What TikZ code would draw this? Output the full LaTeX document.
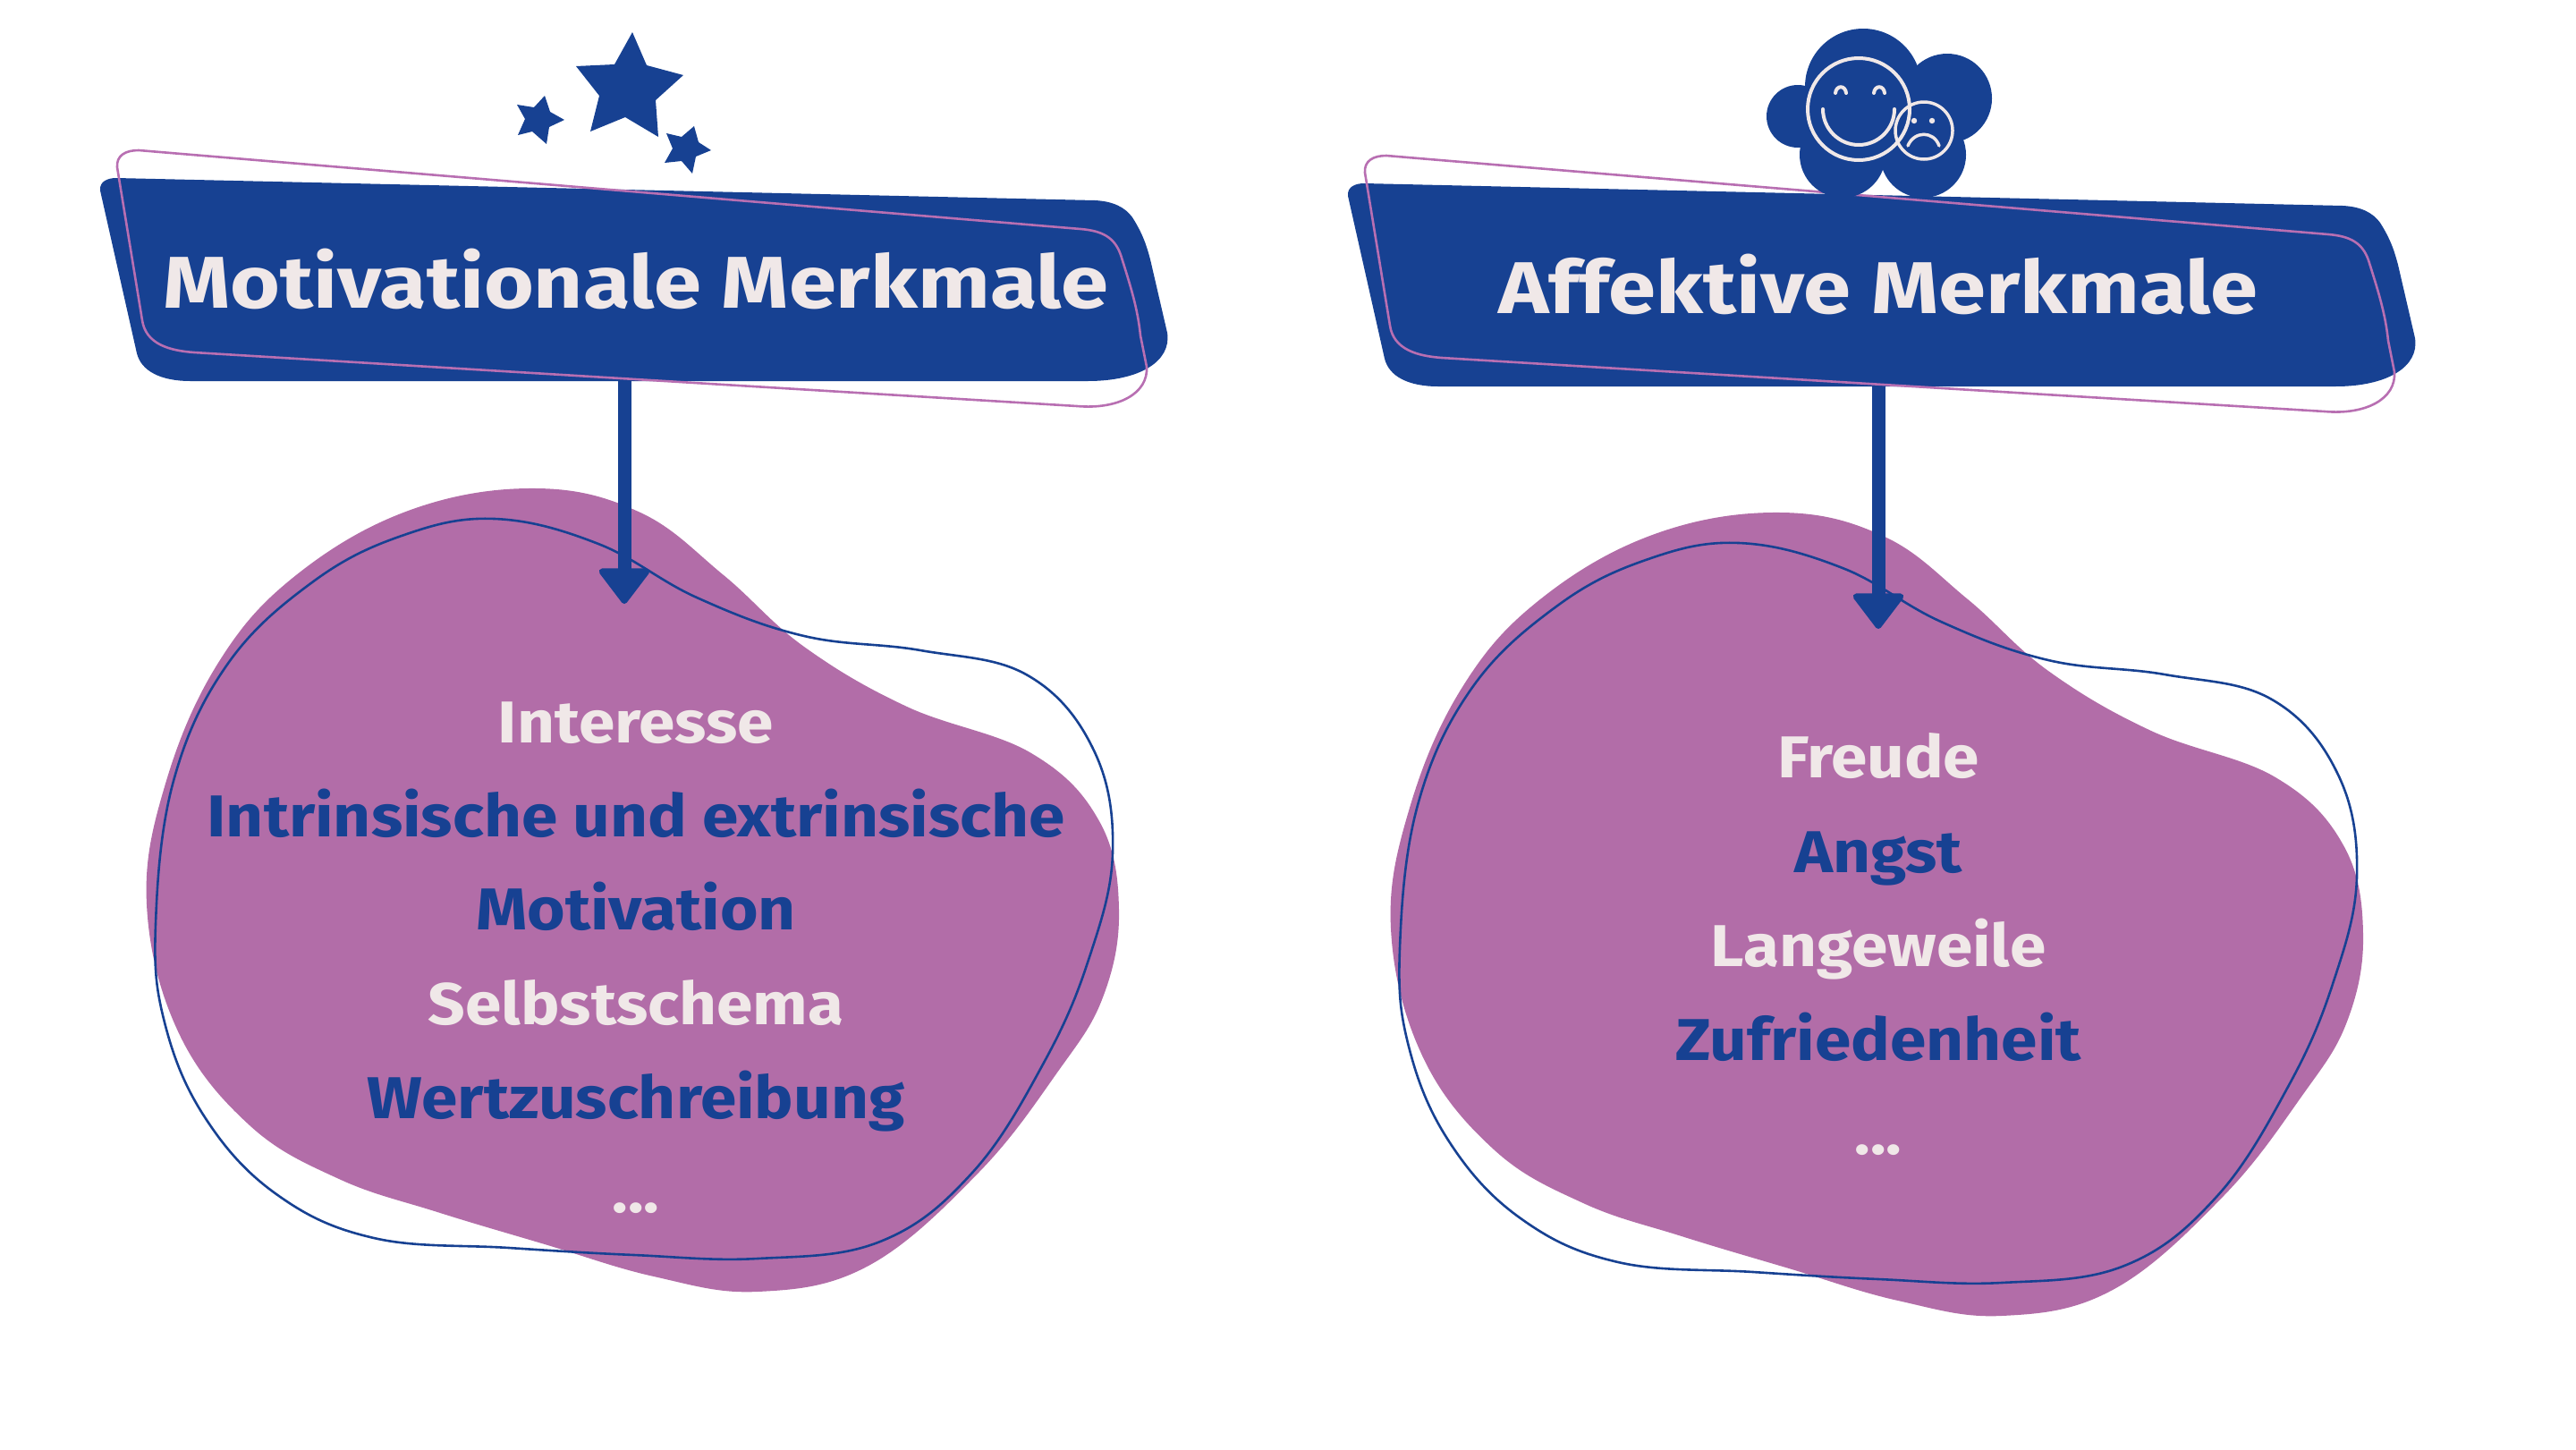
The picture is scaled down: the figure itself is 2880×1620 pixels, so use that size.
\documentclass[tikz,border=0pt]{standalone}
\usepackage{fontspec}
\usetikzlibrary{arrows.meta}
\setmainfont{Fira Sans}
\newfontfamily\titlefont[FakeStretch=1.167]{Fira Sans}
\newfontfamily\itemfont[FakeStretch=1.105]{Fira Sans}
\definecolor{navy}{HTML}{174192}
\definecolor{plum}{HTML}{B26DA8}
\definecolor{rim}{HTML}{B86FB2}
\definecolor{paper}{HTML}{F0E8E8}
\tikzset{
  bannerfill/.style={fill=navy,draw=none},
  bannerrim/.style={draw=rim,line width=2.6pt},
  blobfill/.style={fill=plum,draw=none},
  blobrim/.style={draw=navy,line width=2.6pt},
  linkarrow/.style={draw=navy,line width=15pt,-{Triangle[length=42pt,width=62pt,line width=7pt,round]}},
  titletext/.style={anchor=base,inner sep=0pt,text=paper,font=\titlefont\fontsize{82}{90}\selectfont\bfseries},
  lighttext/.style={anchor=base,inner sep=0pt,text=paper,font=\itemfont\fontsize{66}{72}\selectfont\bfseries},
  darktext/.style={anchor=base,inner sep=0pt,text=navy,font=\itemfont\fontsize{66}{72}\selectfont\bfseries},
  iconfill/.style={fill=navy,draw=none},
  faceline/.style={draw=paper,line width=4pt,line cap=round},
}
\newcommand{\bannerpath}{(112,213) .. controls (111,203) and (120,199) .. (130,199) -- (1224,224) .. controls (1245,225) and (1258,232) .. (1266,243) .. controls (1278,262) and (1282,275) .. (1286,290) -- (1305,372) .. controls (1310,404) and (1274,426) .. (1216,426) -- (213,426) .. controls (180,426) and (158,415) .. (153,395) -- cycle}
\newcommand{\rimpath}{(131,187) .. controls (130,174) and (140,168) .. (155,168) -- (1208,256) .. controls (1232,258) and (1246,265) .. (1253,285) .. controls (1264,320) and (1272,345) .. (1275,375) -- (1282,410) .. controls (1284,440) and (1250,458) .. (1204,454) -- (217,394) .. controls (190,392) and (163,385) .. (159,358) -- cycle}
\newcommand{\blobpath}{plot[smooth cycle,tension=0.65] coordinates {(1991,573) (2107,600) (2200,670) (2290,750) (2405,817) (2544,869) (2620,945) (2642,1044) (2624,1142) (2573,1226) (2485,1338) (2362,1442) (2238,1471) (2122,1454) (2000,1418) (1880,1382) (1770,1345) (1670,1285) (1590,1180) (1555,1038) (1576,903) (1635,768) (1722,670) (1850,597)}}
\newcommand{\blobrimpath}{plot[smooth cycle,tension=0.65] coordinates {(1944,607) (2060,635) (2170,695) (2290,738) (2420,754) (2540,782) (2614,866) (2635,980) (2608,1100) (2558,1215) (2478,1338) (2375,1415) (2238,1434) (2100,1430) (1960,1422) (1809,1411) (1700,1362) (1620,1276) (1575,1170) (1565,1060) (1585,900) (1645,770) (1740,678) (1840,626)}}
\begin{document}
\begin{tikzpicture}[x=1pt,y=-1pt]
\useasboundingbox (0,0) rectangle (2880,1620);
% left group
\begin{scope}[shift={(-1391,-27)}]
  \path[blobfill] \blobpath;
\end{scope}
\path[bannerfill] \bannerpath;
\path[bannerrim] \rimpath;
\begin{scope}[shift={(-1391,-27)}]
  \path[blobrim] \blobrimpath;
\end{scope}
\coordinate (lstart) at (698,426);
\coordinate (ltip) at (698,675);
\draw[linkarrow] (lstart) -- (ltip);
\path[iconfill] (707,36) -- (723,73) -- (764,84) -- (733,112) -- (736,153) -- (699,131) -- (660,147) -- (670,107) -- (644,74) -- (687,72) -- cycle;
\path[iconfill] (609,107) -- (615,125) -- (631,134) -- (614,142) -- (611,161) -- (595,147) -- (579,151) -- (587,133) -- (578,117) -- (597,120) -- cycle;
\path[iconfill] (776,141) -- (781,159) -- (795,168) -- (778,175) -- (774,194) -- (762,180) -- (743,182) -- (752,166) -- (745,149) -- (762,153) -- cycle;
\node[titletext] (ltitle) at (711,344) {Motivationale Merkmale};
\node[lighttext] (l1) at (711,830) {Interesse};
\node[darktext] (l2) at (711,935) {Intrinsische und extrinsische};
\node[darktext] (l3) at (711,1039) {Motivation};
\node[lighttext] (l4) at (711,1145) {Selbstschema};
\node[darktext] (l5) at (711,1250) {Wertzuschreibung};
\node[lighttext] (l6) at (711,1355) {...};
% right group
\path[blobfill] \blobpath;
\begin{scope}[shift={(1395,6)}]
  \path[bannerfill] \bannerpath;
  \path[bannerrim] \rimpath;
\end{scope}
\path[blobrim] \blobrimpath;
\coordinate (rstart) at (2100,432);
\coordinate (rtip) at (2100,703);
\draw[linkarrow] (rstart) -- (rtip);
% cloud
\path[iconfill] (2083,97) circle (65);
\path[iconfill] (2010,130) circle (35);
\path[iconfill] (2177,110) circle (50);
\path[iconfill] (2060,173) circle (48);
\path[iconfill] (2150,173) circle (48);
\path[iconfill] (2060,110) rectangle (2165,170);
\path[faceline] (2078,122) circle (57);
\path[faceline] (2052,104) .. controls (2053,95) and (2063,95) .. (2064,104);
\path[faceline] (2095,104) .. controls (2096,95) and (2106,95) .. (2107,104);
\path[faceline] (2038,122) .. controls (2038,144) and (2056,162) .. (2078,162) .. controls (2100,162) and (2118,144) .. (2118,122);
\path[faceline,line width=3.5pt] (2151,146) circle (32);
\path[fill=paper] (2140,135) circle (3.2);
\path[fill=paper] (2160,135) circle (3.2);
\path[faceline,line width=3.5pt] (2133,163) .. controls (2140,146) and (2162,146) .. (2168,163);
\node[titletext] (rtitle) at (2100,350) {Affektive Merkmale};
\node[lighttext] (r1) at (2100,869) {Freude};
\node[darktext] (r2) at (2100,975) {Angst};
\node[lighttext] (r3) at (2100,1080) {Langeweile};
\node[darktext] (r4) at (2100,1185) {Zufriedenheit};
\node[lighttext] (r5) at (2100,1290) {...};
\end{tikzpicture}
\end{document}
